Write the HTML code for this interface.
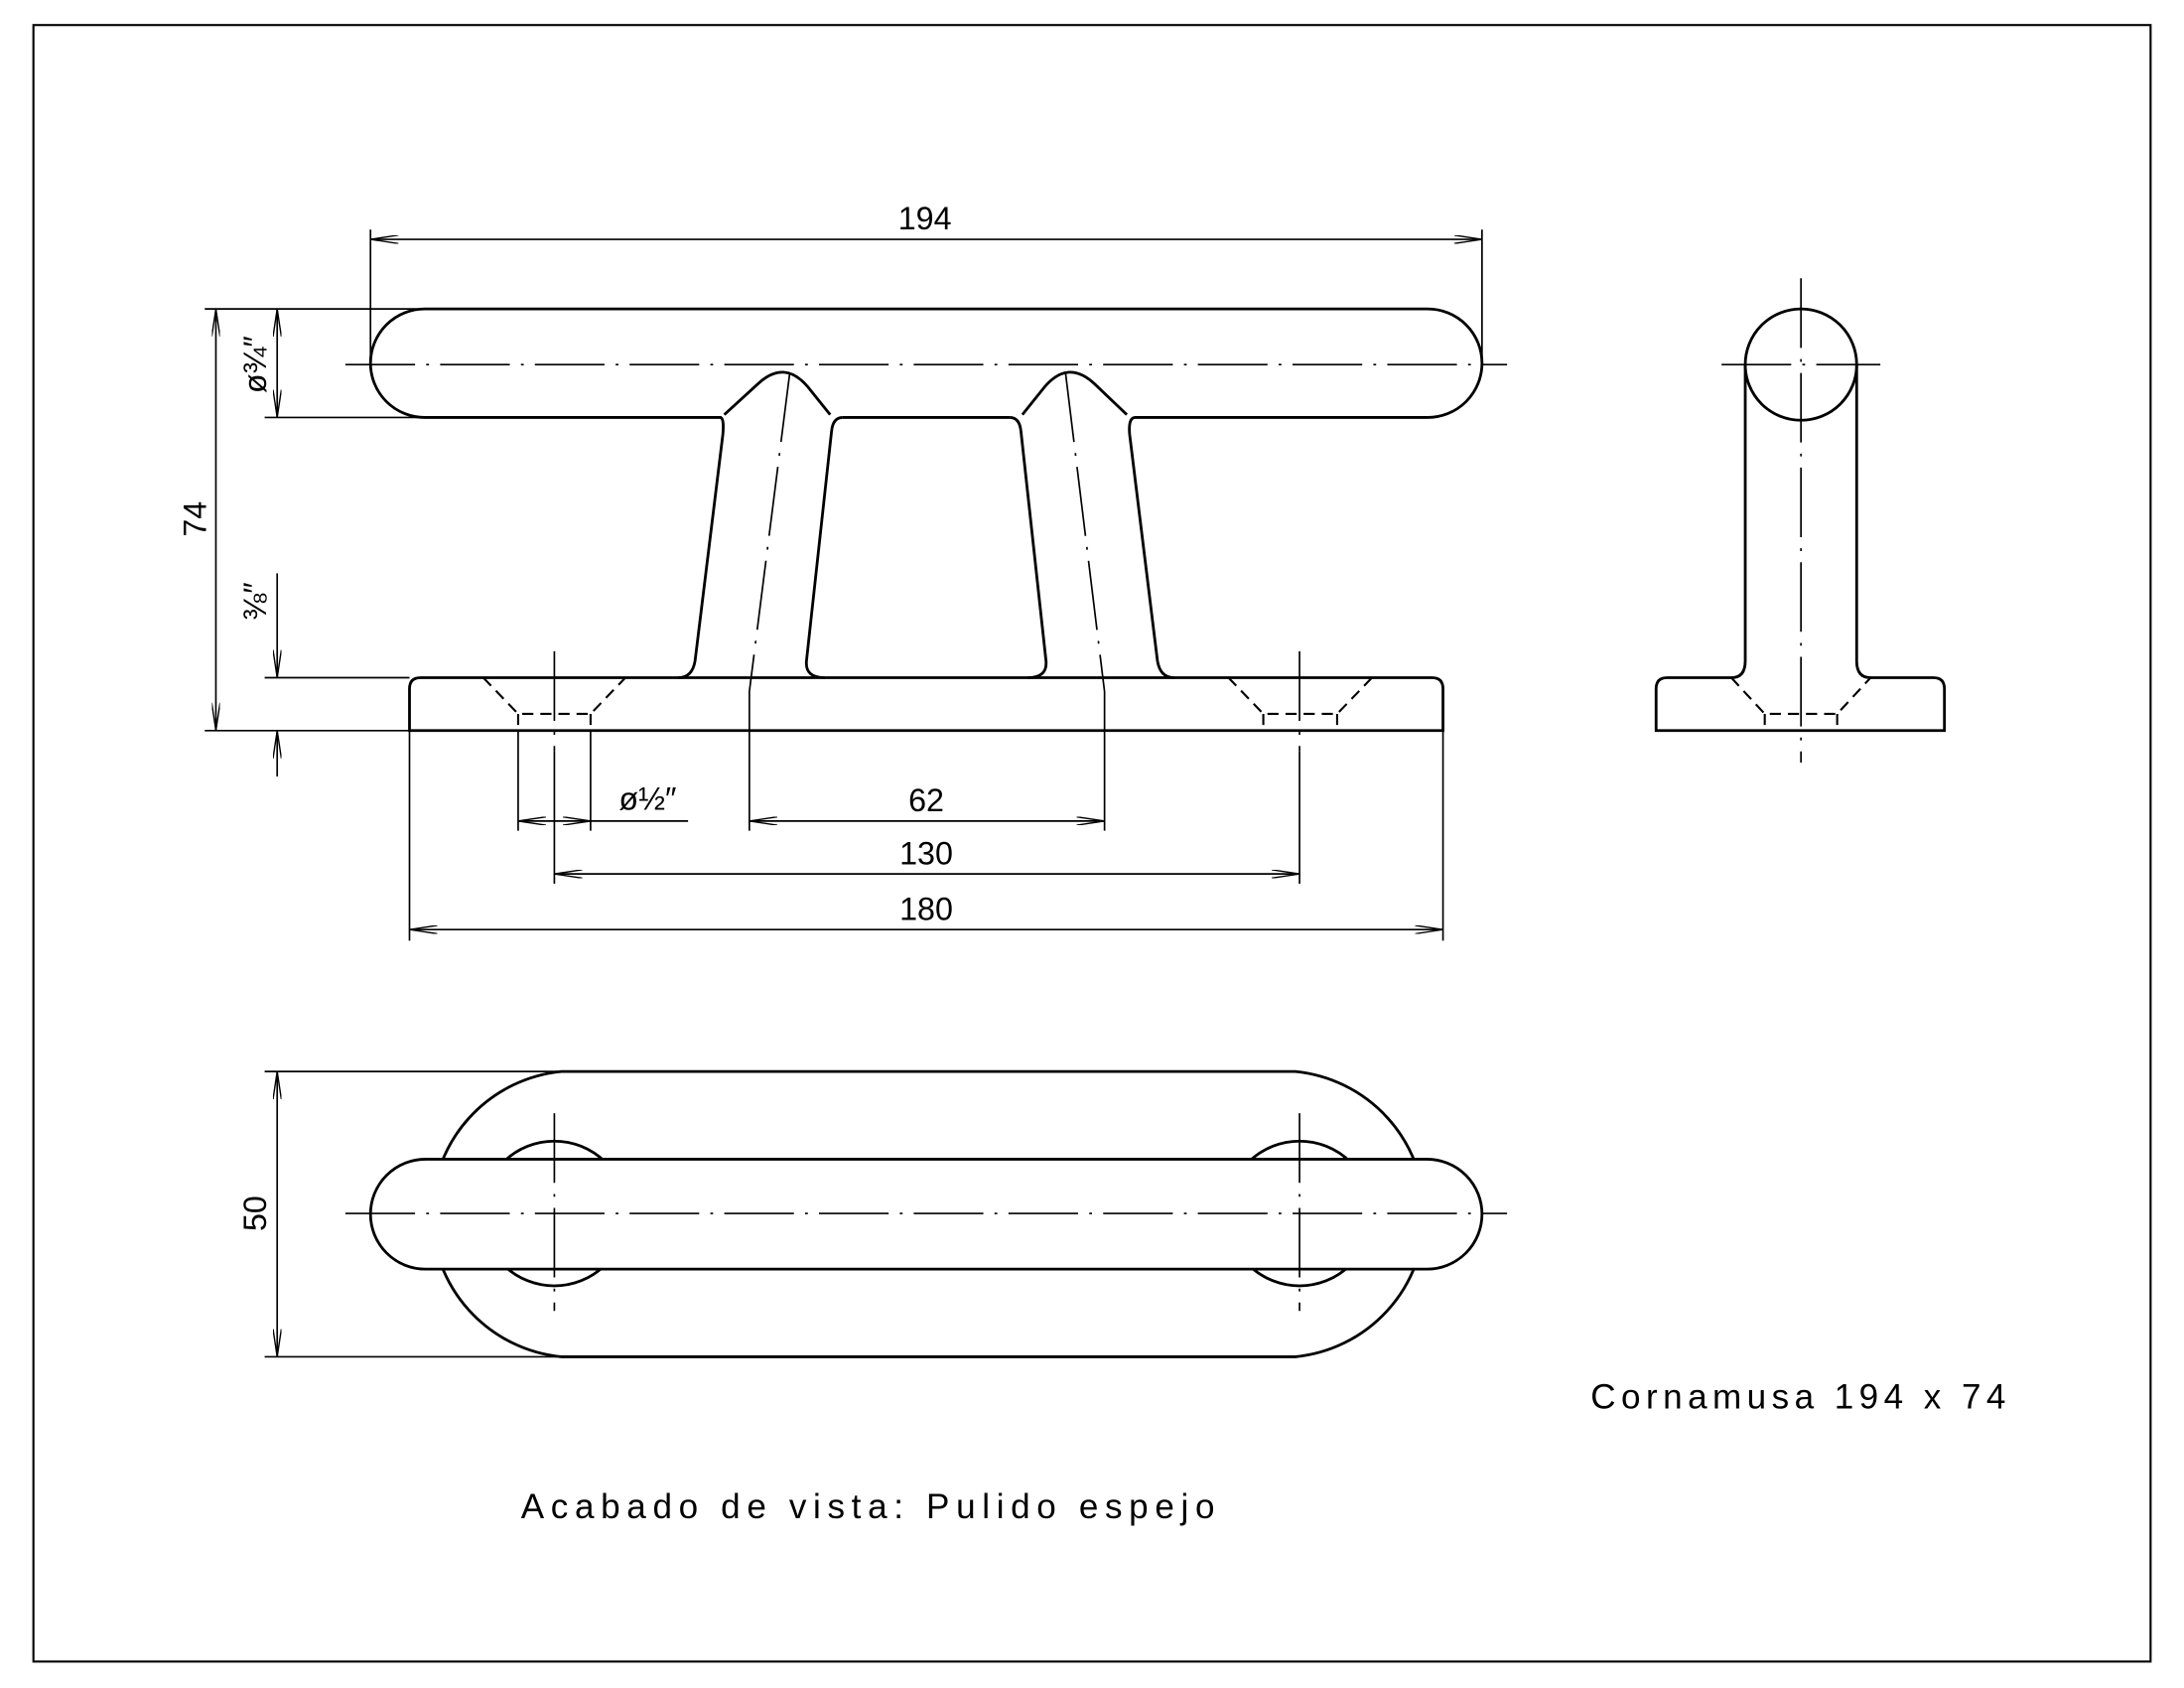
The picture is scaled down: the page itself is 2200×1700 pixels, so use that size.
<!DOCTYPE html>
<html><head><style>html,body{margin:0;padding:0;background:#fff}svg{display:block}
text{font-family:"Liberation Sans",sans-serif;font-size:23px;fill:#000}</style></head>
<body>
<svg width="2200" height="1700" viewBox="0 0 1568 1213" preserveAspectRatio="none" xmlns="http://www.w3.org/2000/svg">
<defs>
<marker id="a" viewBox="0 0 20 6" refX="20" refY="3" markerWidth="20" markerHeight="6" markerUnits="userSpaceOnUse" orient="auto-start-reverse"><path d="M0,0 L20,3 L0,6" fill="none" stroke="#000" stroke-width="1"/></marker>
</defs>
<rect x="24" y="18" width="1520" height="1176" fill="none" stroke="#000" stroke-width="1.5"/>
<g fill="none" stroke="#000" stroke-width="2">
<path d="M518,300 L305,300 A39,39 0 0 1 305,222 L1025,222 A39,39 0 0 1 1025,300 L815,300"/>
<path d="M605,300 L725,300"/>
<path d="M517,300 Q520,300 519,312 L499,475 Q497,487 487,487"/>
<path d="M605,300 Q598,300 597,310 L579,475 Q578,487 592,487"/>
<path d="M725,300 Q732,300 733,310 L751,475 Q752,487 738,487"/>
<path d="M815,300 Q810,300 811,312 L831,475 Q833,487 843,487"/>
<path d="M520,298 L544,276 Q563,258 580,278 L596,298"/>
<path d="M734,298 L750,278 Q767,258 786,276 L809,298"/>
<path d="M294,525 L294,495 Q294,487 302,487 L1028,487 Q1036,487 1036,495 L1036,525 Z"/>
<circle cx="1293" cy="262" r="40"/>
<path d="M1253,262 L1253,475 Q1253,487 1243,487 L1197,487 Q1189,487 1189,495 L1189,525 L1396,525 L1396,495 Q1396,487 1388,487 L1343,487 Q1333,487 1333,475 L1333,262"/>
<path d="M403,770 L930,770 A103,103 0 0 1 930,975 L403,975 A103,103 0 0 1 403,770 Z"/>
<circle cx="398" cy="872" r="52"/>
<circle cx="933" cy="872" r="52"/>
<rect x="266" y="833" width="798" height="79" rx="39.5" fill="#fff"/>
</g>
<g fill="none" stroke="#000" stroke-width="1.5" stroke-dasharray="8,5">
<path d="M347,487 L372,513 L424,513 L449,487 M372,513 L372,525 M424,513 L424,525"/>
<path d="M882,487 L907,513 L960,513 L985,487 M907,513 L907,525 M960,513 L960,525"/>
<path d="M1243,487 L1267,513 L1319,513 L1343,487 M1267,513 L1267,525 M1319,513 L1319,525"/>
</g>
<g fill="none" stroke="#000" stroke-width="1.2" stroke-dasharray="50,8,2,8">
<path d="M248,262 L1082,262"/>
<path d="M567,268 L538,497"/>
<path d="M765,268 L793,497"/>
<path d="M398,468 L398,540"/>
<path d="M933,468 L933,540"/>
<path d="M1293,200 L1293,548"/>
<path d="M1236,262 L1350,262"/>
<path d="M248,872 L1082,872"/>
<path d="M398,800 L398,942"/>
<path d="M933,800 L933,942"/>
</g>
<g fill="none" stroke="#000" stroke-width="1.2">
<path d="M266,165 L266,258 M1064,165 L1064,258"/>
<path d="M266,172 L1064,172" marker-start="url(#a)" marker-end="url(#a)"/>
<path d="M147,222 L300,222 M147,525 L294,525 M190,300 L305,300 M190,487 L294,487"/>
<path d="M155,222 L155,525" marker-start="url(#a)" marker-end="url(#a)"/>
<path d="M199,222 L199,300" marker-start="url(#a)" marker-end="url(#a)"/>
<path d="M199,412 L199,487" marker-end="url(#a)"/>
<path d="M199,558 L199,525" marker-end="url(#a)"/>
<path d="M372,525 L372,597 M424,525 L424,597 M538,497 L538,597 M793,497 L793,597"/>
<path d="M398,540 L398,635 M933,540 L933,635 M294,525 L294,676 M1036,525 L1036,676"/>
<path d="M372,590 L424,590" marker-start="url(#a)" marker-end="url(#a)"/>
<path d="M424,590 L494,590"/>
<path d="M538,590 L793,590" marker-start="url(#a)" marker-end="url(#a)"/>
<path d="M398,628 L933,628" marker-start="url(#a)" marker-end="url(#a)"/>
<path d="M294,668 L1036,668" marker-start="url(#a)" marker-end="url(#a)"/>
<path d="M190,770 L400,770 M190,975 L400,975"/>
<path d="M199,770 L199,975" marker-start="url(#a)" marker-end="url(#a)"/>
</g>
<text x="664" y="165" text-anchor="middle">194</text>
<text x="665" y="583" text-anchor="middle">62</text>
<text x="665" y="621" text-anchor="middle">130</text>
<text x="665" y="661" text-anchor="middle">180</text>
<text x="465" y="582" text-anchor="middle">ø½″</text>
<text transform="translate(148,373) rotate(-90)" text-anchor="middle">74</text>
<text transform="translate(191,262) rotate(-90)" text-anchor="middle">ø¾″</text>
<text transform="translate(191,432) rotate(-90)" text-anchor="middle">⅜″</text>
<text transform="translate(191,872) rotate(-90)" text-anchor="middle">50</text>
<text x="1142" y="1012" style="font-size:25px" textLength="298" lengthAdjust="spacing">Cornamusa 194 x 74</text>
<text x="374" y="1091" style="font-size:25px" textLength="498" lengthAdjust="spacing">Acabado de vista:  Pulido espejo</text>
</svg>
</body></html>
